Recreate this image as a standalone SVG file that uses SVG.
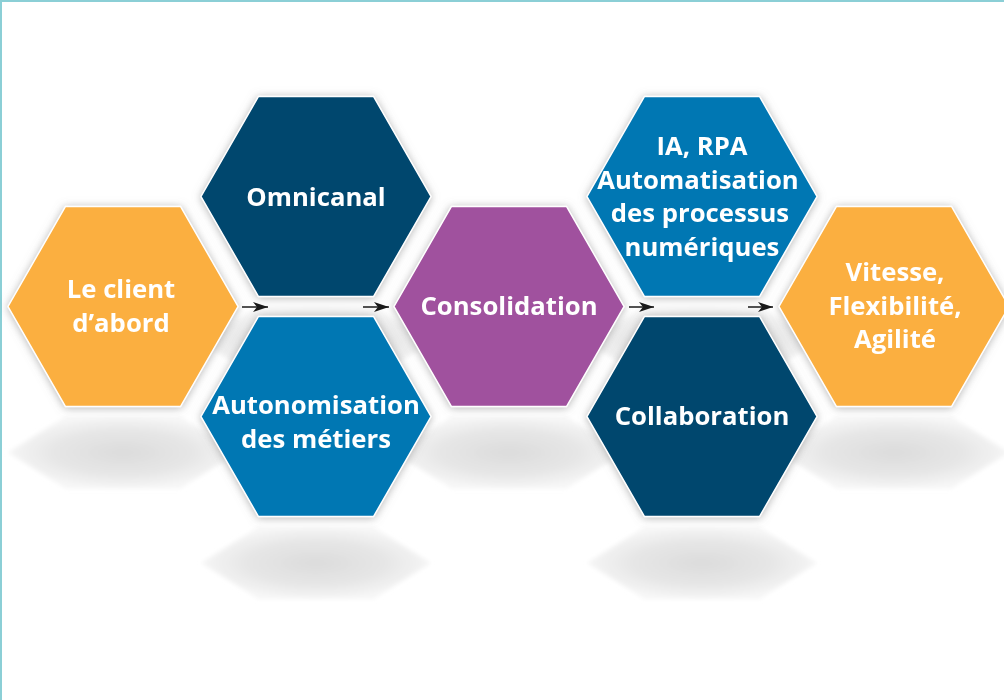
<svg xmlns="http://www.w3.org/2000/svg" width="1004" height="700" viewBox="0 0 1004 700">
<style>
.lbl{font-family:"Open Sans","Noto Sans","Liberation Sans",sans-serif;font-weight:700;font-size:25.7px;fill:#ffffff;text-anchor:middle}
.hx{stroke:#ffffff;stroke-width:1.5;filter:url(#glow)}
.org{fill:#FBAF41}.nav{fill:#01466E}.blu{fill:#0477B3}.pur{fill:#A0519E}
.arr{stroke:#1a1a1a;stroke-width:1.5;fill:none;marker-end:url(#ah)}
</style>
<defs>
<path id="hex" d="M-115,0 L-57.5,-100 L57.5,-100 L115,0 L57.5,100 L-57.5,100 Z"/>
<path id="shd" d="M-115,0 L-57.5,-36 L57.5,-36 L115,0 L57.5,36 L-57.5,36 Z"/>
<filter id="glow" x="-20%" y="-20%" width="140%" height="140%">
<feDropShadow dx="0" dy="1" stdDeviation="4" flood-color="#7a7a7a" flood-opacity="0.55"/>
</filter>
<filter id="soft" x="-10%" y="-30%" width="120%" height="160%">
<feGaussianBlur stdDeviation="2"/>
</filter>
<radialGradient id="sg" cx="0.5" cy="0.5" r="0.5">
<stop offset="0" stop-color="#dcdcdc"/>
<stop offset="0.6" stop-color="#e6e6e6"/>
<stop offset="1" stop-color="#f6f6f6"/>
</radialGradient>
<marker id="ah" markerUnits="userSpaceOnUse" markerWidth="16" markerHeight="11" refX="15" refY="5.5" orient="auto">
<path d="M0,0.5 L15,5.5 L0,10.5 L4,5.5 Z" fill="#1a1a1a"/>
</marker>
</defs>
<rect x="0" y="0" width="1004" height="700" fill="#ffffff"/>
<line x1="0" y1="1" x2="1004" y2="1" stroke="#8BCFD6" stroke-width="2"/>
<line x1="1" y1="0" x2="1" y2="700" stroke="#8BCFD6" stroke-width="2"/>
<g id="shadows" filter="url(#soft)" fill="url(#sg)">
<use href="#shd" transform="translate(316,342)"/>
<use href="#shd" transform="translate(702,342)"/>
<use href="#shd" transform="translate(123,452.5)"/>
<use href="#shd" transform="translate(509,452.5)"/>
<use href="#shd" transform="translate(894,452.5)"/>
<use href="#shd" transform="translate(316,563)"/>
<use href="#shd" transform="translate(702,563)"/>
</g>
<g id="n1"><use href="#hex" class="hx org" transform="translate(123,306.5)"/>
<text class="lbl" x="121" y="298">Le client</text><text class="lbl" x="121" y="332">d’abord</text></g>
<g id="n2"><use href="#hex" class="hx nav" transform="translate(316,196.5)"/>
<text class="lbl" x="316" y="206">Omnicanal</text></g>
<g id="n3"><use href="#hex" class="hx blu" transform="translate(316,416.5)"/>
<text class="lbl" x="316" y="414">Autonomisation</text><text class="lbl" x="316" y="448">des métiers</text></g>
<g id="n4"><use href="#hex" class="hx pur" transform="translate(509,306.5)"/>
<text class="lbl" x="509" y="315">Consolidation</text></g>
<g id="n5"><use href="#hex" class="hx blu" transform="translate(702,196.5)"/>
<text class="lbl" x="702" y="155">IA, RPA</text><text class="lbl" x="698" y="189">Automatisation</text><text class="lbl" x="700" y="222">des processus</text><text class="lbl" x="702" y="256">numériques</text></g>
<g id="n6"><use href="#hex" class="hx nav" transform="translate(702,416.5)"/>
<text class="lbl" x="702" y="425">Collaboration</text></g>
<g id="n7"><use href="#hex" class="hx org" transform="translate(894,306.5)"/>
<text class="lbl" x="895" y="281">Vitesse,</text><text class="lbl" x="895" y="315">Flexibilité,</text><text class="lbl" x="895" y="348">Agilité</text></g>
<g id="connectors">
<line class="arr" x1="242" y1="307" x2="268" y2="307"/>
<line class="arr" x1="363" y1="307" x2="389" y2="307"/>
<line class="arr" x1="629" y1="307" x2="654" y2="307"/>
<line class="arr" x1="748" y1="307" x2="773" y2="307"/>
</g>
</svg>
